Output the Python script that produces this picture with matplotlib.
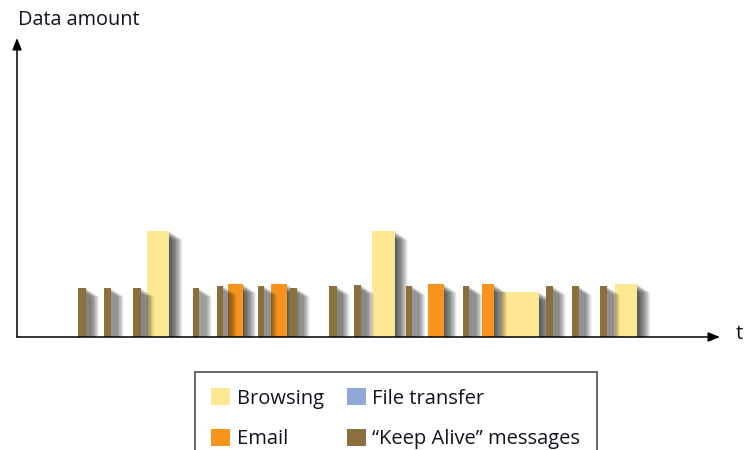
import matplotlib
matplotlib.use("Agg")
import matplotlib.pyplot as plt
import matplotlib.patheffects as pe
from matplotlib.patches import Patch

# Traffic bursts over time: start time, duration and data amount
browsing_start = [12.97, 35.47, 48.30, 59.80]
browsing_width = [2.26, 2.30, 3.93, 2.23]
browsing_amount = [10.6, 10.6, 4.5, 5.3]

email_start = [21.07, 25.40, 41.13, 46.47]
email_width = [1.53, 1.57, 1.54, 1.20]
email_amount = [5.3, 5.3, 5.3, 5.3]

keepalive_start = [6.13, 8.73, 11.63, 17.63, 19.97, 24.07, 27.30,
                   31.20, 33.67, 38.90, 44.57, 52.85, 55.50, 58.30]
keepalive_width = [0.77, 0.64, 0.74, 0.54, 0.66, 0.66, 0.67,
                   0.77, 0.73, 0.63, 0.66, 0.72, 0.67, 0.67]
keepalive_amount = [4.9, 4.9, 4.9, 4.9, 5.1, 5.1, 4.9,
                    5.1, 5.2, 5.1, 5.1, 5.1, 5.1, 5.1]

legend_labels = ["Browsing", "Email", "File transfer", "\u201cKeep Alive\u201d messages"]

C_BROWSE = "#FDE792"
C_EMAIL = "#F7941D"
C_FILE = "#8FA8D8"
C_KEEP = "#8B6F3C"
TEXT = "#10141f"

plt.rcParams["font.family"] = ["Open Sans", "DejaVu Sans"]

fig = plt.figure(figsize=(7.47, 4.5), dpi=100)
ax = fig.add_axes([17 / 747, 113 / 450, 730 / 747, 337 / 450])
ax.set_xlim(0, 73)
ax.set_ylim(0, 33.7)
ax.axis("off")

# soft drop shadow built from many faint offset copies
shadow = []
n_layers = 22
for k in range(1, n_layers + 1):
    shadow.append(pe.SimplePatchShadow(offset=(k * 0.42, -k * 0.28),
                                       shadow_rgbFace="#1e1e1e", alpha=0.055))
shadow.append(pe.Normal())

ax.bar(browsing_start, browsing_amount, width=browsing_width, align="edge",
       color=C_BROWSE, path_effects=shadow, zorder=2)
ax.bar(email_start, email_amount, width=email_width, align="edge",
       color=C_EMAIL, path_effects=shadow, zorder=3)
ax.bar(keepalive_start, keepalive_amount, width=keepalive_width, align="edge",
       color=C_KEEP, path_effects=shadow, zorder=4)

# axes with arrow heads
arrow = dict(arrowstyle="-|>,head_length=0.7,head_width=0.28", color="black",
             lw=1.1, shrinkA=0, shrinkB=0)
ax.annotate("", xy=(70.3, 0), xytext=(0, 0), arrowprops=arrow,
            annotation_clip=False, zorder=6)
ax.annotate("", xy=(0, 29.9), xytext=(0, 0), arrowprops=arrow,
            annotation_clip=False, zorder=6)

ax.text(72.2, 0.3, "t", fontsize=14.5, color=TEXT, ha="center", va="center",
        clip_on=False)
ax.text(0.1, 31.7, "Data amount", fontsize=14.3, color=TEXT, ha="left",
        va="center", clip_on=False)

handles = [Patch(facecolor=c, edgecolor="none")
           for c in (C_BROWSE, C_EMAIL, C_FILE, C_KEEP)]
leg = fig.legend(handles, legend_labels, ncol=2, loc="upper left",
                 bbox_to_anchor=(195 / 747, 1 - 372 / 450),
                 fontsize=14.5, frameon=True, fancybox=False,
                 handlelength=0.95, handleheight=0.95, handletextpad=0.32,
                 columnspacing=1.15, labelspacing=1.0, borderpad=0.8,
                 borderaxespad=0)
for t in leg.get_texts():
    t.set_color(TEXT)
frame = leg.get_frame()
frame.set_edgecolor("#333333")
frame.set_linewidth(1.3)

fig.savefig("out.png", dpi=100)
